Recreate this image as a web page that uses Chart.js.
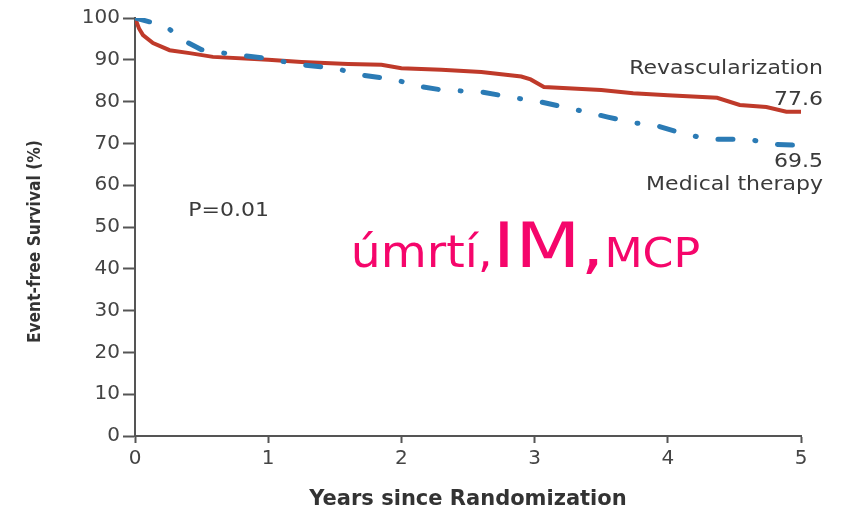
<!DOCTYPE html>
<html>
<head>
<meta charset="utf-8">
<script src="https://cdn.jsdelivr.net/npm/chart.js@4.4.1/dist/chart.umd.min.js"></script>
<style>
  html, body { margin: 0; padding: 0; background: #fff; }
  #wrap { width: 841px; height: 512px; }
</style>
</head>
<body>
<div id="wrap"><canvas id="c" width="841" height="512"></canvas></div>
<script>
// Kaplan-Meier points (years, % event-free)
var revascYears = [0, 0.03, 0.06, 0.135, 0.26, 0.41, 0.585, 1.0, 1.25, 1.6, 1.85, 2.0, 2.3, 2.6, 2.9, 2.97, 3.07, 3.5, 3.74, 4.0, 4.37, 4.54, 4.74, 4.89, 5.0];
var revascValues = [100, 97.5, 95.9, 94, 92.3, 91.6, 90.7, 90, 89.5, 89, 88.8, 88, 87.6, 87.1, 86, 85.3, 83.5, 82.8, 82, 81.5, 80.9, 79.2, 78.7, 77.6, 77.6];

var medYears = [0, 0.12, 0.26, 0.36, 0.5, 0.75, 1.0, 1.24, 1.5, 1.69, 1.95, 2.12, 2.3, 2.6, 2.85, 3.05, 3.25, 3.4, 3.55, 3.75, 3.9, 4.1, 4.3, 4.6, 4.8, 5.0];
var medValues = [100, 99, 97.3, 94.7, 92.4, 91.2, 90.3, 88.8, 88, 86.4, 85.3, 83.7, 82.8, 82.3, 80.9, 79.9, 78.5, 77.4, 76.3, 74.9, 74.4, 72.5, 71, 71, 69.8, 69.5];

var xTicks = [0, 1, 2, 3, 4, 5];
var yTicks = [0, 10, 20, 30, 40, 50, 60, 70, 80, 90, 100];

var yTitle = "Event-free Survival (%)";
var xTitle = "Years since Randomization";
var revascLabel = "Revascularization";
var medLabel = "Medical therapy";
var revascEnd = "77.6";
var medEnd = "69.5";
var pText = "P=0.01";
var overlayParts = ["úmrtí,", "IM,", "MCP"];

function toPoints(xs, ys) {
    var out = [];
    for (var i = 0; i < xs.length; i++) out.push({x: xs[i], y: ys[i]});
    return out;
}

// draws text squeezed/stretched horizontally, returns drawn width
function stretchText(ctx, txt, x, y, sx, align) {
    var w = ctx.measureText(txt).width * sx;
    var left = align === "right" ? x - w : (align === "center" ? x - w / 2 : x);
    ctx.save();
    ctx.translate(left, y);
    ctx.scale(sx, 1);
    ctx.textAlign = "left";
    ctx.fillText(txt, 0, 0);
    ctx.restore();
    return w;
}

var labelsPlugin = {
    id: "labels",
    afterDraw: function(chart) {
        var ctx = chart.ctx;
        var xs = chart.scales.x, ys = chart.scales.y;
        var right = xs.getPixelForValue(5) + 22;
        ctx.save();
        ctx.fillStyle = "#3a3a3a";
        ctx.font = "20px 'DejaVu Sans'";
        ctx.textBaseline = "middle";
        stretchText(ctx, revascLabel, right, ys.getPixelForValue(88.7) + 4, 1.1, "right");
        stretchText(ctx, revascEnd, right, ys.getPixelForValue(80.9) + 2, 1.1, "right");
        stretchText(ctx, medEnd, right, ys.getPixelForValue(65.5), 1.1, "right");
        stretchText(ctx, medLabel, right, ys.getPixelForValue(60.2), 1.1, "right");
        stretchText(ctx, pText, xs.getPixelForValue(0.4), ys.getPixelForValue(53.8), 1.1, "left");

        // y axis title, a bit below the middle as in the original
        ctx.fillStyle = "#333";
        ctx.font = "bold 18px 'DejaVu Sans'";
        ctx.save();
        ctx.translate(35, ys.getPixelForValue(46.5));
        ctx.rotate(-Math.PI / 2);
        stretchText(ctx, yTitle, 0, 0, 0.86, "center");
        ctx.restore();

        // pink overlay text
        ctx.fillStyle = "#f5066b";
        ctx.textBaseline = "alphabetic";
        var base = ys.getPixelForValue(40.4);
        var x = xs.getPixelForValue(1.62);
        var sizes = [45, 63, 41];
        var stretch = [1.05, 1.2, 1.08];
        for (var i = 0; i < overlayParts.length; i++) {
            ctx.font = sizes[i] + "px 'DejaVu Sans'";
            x += stretchText(ctx, overlayParts[i], x, base, stretch[i], "left");
        }
        ctx.restore();
    }
};

var axisColor = "#555";

new Chart(document.getElementById("c").getContext("2d"), {
    type: "line",
    data: {
        datasets: [
            {
                label: medLabel,
                data: toPoints(medYears, medValues),
                borderColor: "#2b7bb5",
                borderWidth: 5,
                borderDash: [15, 22, 1, 22],
                borderCapStyle: "round",
                pointRadius: 0,
                tension: 0,
                order: 0
            },
            {
                label: revascLabel,
                data: toPoints(revascYears, revascValues),
                borderColor: "#bf3a2a",
                borderWidth: 4,
                pointRadius: 0,
                tension: 0,
                order: 1
            }
        ]
    },
    options: {
        responsive: false,
        animation: false,
        layout: { padding: { left: 0, top: 18, right: 40, bottom: 0 } },
        plugins: {
            legend: { display: false },
            tooltip: { enabled: false }
        },
        scales: {
            x: {
                type: "linear",
                min: 0,
                max: 5,
                afterBuildTicks: function(s) { s.ticks = xTicks.map(function(v) { return {value: v}; }); },
                afterFit: function(s) { s.height = 76; },
                ticks: { color: "#444", font: { family: "DejaVu Sans", size: 20 }, padding: 4 },
                grid: { drawOnChartArea: false, drawTicks: true, tickLength: 7, tickColor: axisColor, tickWidth: 2 },
                border: { color: axisColor, width: 2 },
                title: {
                    display: true,
                    text: xTitle,
                    color: "#333",
                    font: { family: "DejaVu Sans", size: 21, weight: "bold" },
                    padding: { top: 4, bottom: 0 }
                }
            },
            y: {
                type: "linear",
                min: 0,
                max: 100,
                afterBuildTicks: function(s) { s.ticks = yTicks.map(function(v) { return {value: v}; }); },
                afterFit: function(s) { s.width = 135; },
                ticks: { color: "#444", font: { family: "DejaVu Sans", size: 20 }, padding: 3 },
                grid: { drawOnChartArea: false, drawTicks: true, tickLength: 12, tickColor: axisColor, tickWidth: 2 },
                border: { color: axisColor, width: 2 },
                title: { display: false }
            }
        }
    },
    plugins: [labelsPlugin]
});
</script>
</body>
</html>
